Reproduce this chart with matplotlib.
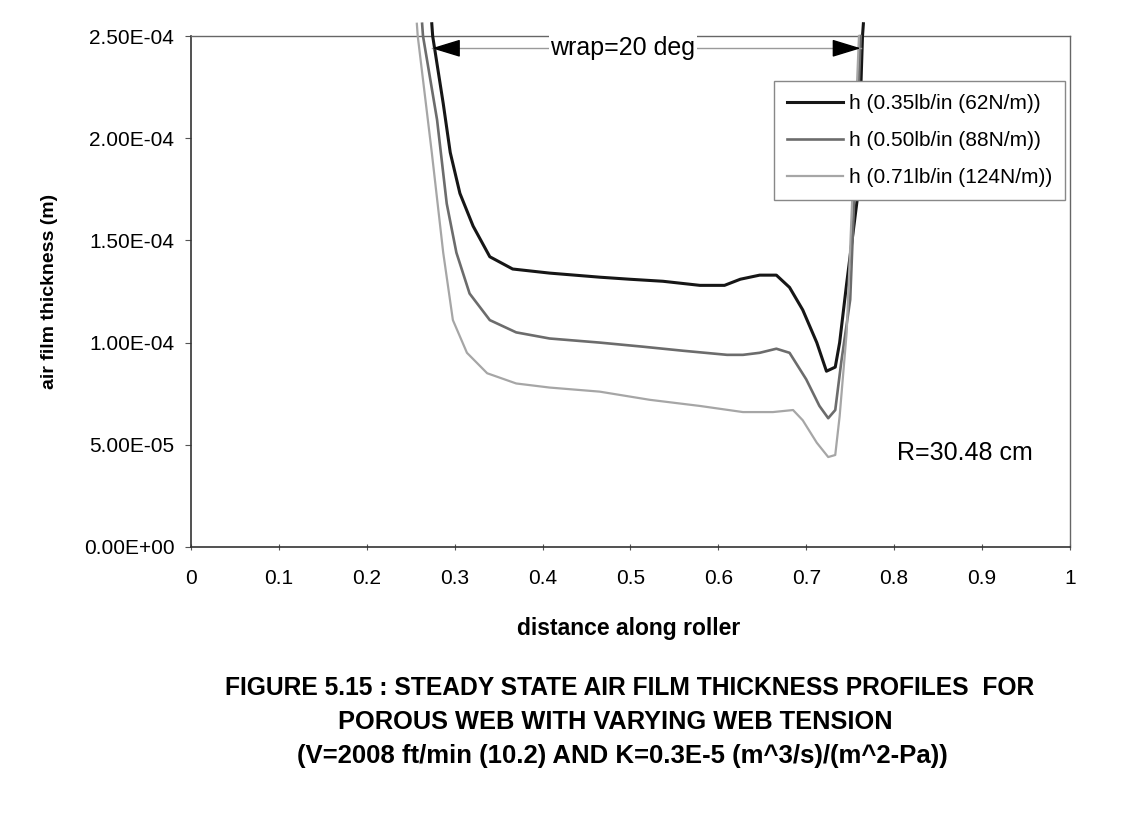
import matplotlib.pyplot as plt

# air film thickness profiles (h in micrometres)
x_62 = [0.274, 0.275, 0.287, 0.295, 0.306, 0.321, 0.340, 0.366, 0.408, 0.465, 0.499, 0.537,
        0.579, 0.607, 0.625, 0.647, 0.666, 0.681, 0.696, 0.712, 0.723, 0.733, 0.738, 0.746,
        0.758, 0.764, 0.765]
h_62 = [256, 250, 217, 193, 173, 157, 142, 136, 134, 132, 131, 130,
        128, 128, 131, 133, 133, 127, 116, 100, 86, 88, 100, 129,
        170, 250, 256]

x_88 = [0.263, 0.264, 0.280, 0.291, 0.302, 0.317, 0.340, 0.370, 0.408, 0.465, 0.514, 0.560,
        0.610, 0.628, 0.647, 0.666, 0.681, 0.700, 0.715, 0.725, 0.733, 0.740, 0.750, 0.762]
h_88 = [256, 250, 209, 168, 144, 124, 111, 105, 102, 100, 98, 96,
        94, 94, 95, 97, 95, 82, 69, 63, 67, 91, 121, 250]

x_124 = [0.257, 0.258, 0.274, 0.287, 0.298, 0.314, 0.337, 0.370, 0.408, 0.465, 0.522, 0.579,
         0.628, 0.662, 0.685, 0.696, 0.712, 0.725, 0.733, 0.738, 0.746, 0.760]
h_124 = [256, 250, 193, 144, 111, 95, 85, 80, 78, 76, 72, 69,
         66, 66, 67, 62, 51, 44, 45, 64, 105, 250]

labels = ["h (0.35lb/in (62N/m))", "h (0.50lb/in (88N/m))", "h (0.71lb/in (124N/m))"]
colors = ["#161616", "#6c6c6c", "#a6a6a6"]
widths = [2.2, 1.9, 1.6]

x_ticks = [0, 0.1, 0.2, 0.3, 0.4, 0.5, 0.6, 0.7, 0.8, 0.9, 1]
y_ticks = [0, 5e-5, 1e-4, 1.5e-4, 2e-4, 2.5e-4]
y_tick_labels = ["0.00E+00", "5.00E-05", "1.00E-04", "1.50E-04", "2.00E-04", "2.50E-04"]

wrap_start = 0.274
wrap_end = 0.762
wrap_h = 244e-6

caption = ["FIGURE 5.15 : STEADY STATE AIR FILM THICKNESS PROFILES  FOR",
           "POROUS WEB WITH VARYING WEB TENSION",
           "(V=2008 ft/min (10.2) AND K=0.3E-5 (m^3/s)/(m^2-Pa))"]
caption_sizes = [17.7, 18.3, 18.5]
caption_x = [0.551, 0.539, 0.545]

plt.rcParams['font.family'] = ['Liberation Sans', 'DejaVu Sans']

fig = plt.figure(figsize=(11.42, 8.24), dpi=100)
ax = fig.add_axes([0.1672, 0.3362, 0.7697, 0.6201])

for xs, hs, lab, c, lw in zip([x_62, x_88, x_124], [h_62, h_88, h_124], labels, colors, widths):
    ax.plot(xs, [v * 1e-6 for v in hs], color=c, lw=lw, label=lab, clip_on=False, zorder=3)

ax.set_xlim(0, 1)
ax.set_ylim(0, 2.5e-4)
ax.set_xticks(x_ticks)
ax.set_xticklabels([("%g" % t) for t in x_ticks])
ax.set_yticks(y_ticks)
ax.set_yticklabels(y_tick_labels)
ax.tick_params(axis='both', labelsize=15, length=4, color='#555555')
ax.tick_params(axis='x', direction='inout', pad=14)
ax.tick_params(axis='y', direction='out', pad=8)
for s in ['left', 'bottom']:
    ax.spines[s].set_color('#333333')
    ax.spines[s].set_linewidth(1.2)
for s in ['top', 'right']:
    ax.spines[s].set_color('#666666')
    ax.spines[s].set_linewidth(1.0)

ax.set_xlabel('distance along roller', fontsize=16.5, fontweight='bold')
ax.xaxis.set_label_coords(0.498, -0.137)
ax.set_ylabel('air film thickness (m)', fontsize=14, fontweight='bold')
ax.yaxis.set_label_coords(-0.151, 0.5)

# wrap angle dimension line with black heads
ax.plot([wrap_start, wrap_end], [wrap_h, wrap_h], color='#9a9a9a', lw=1.0, zorder=4)
head = dict(arrowstyle='-|>,head_length=1.8,head_width=0.55', color='black',
            mutation_scale=10, shrinkA=0, shrinkB=0, lw=1.0)
ax.annotate('', xy=(wrap_start, wrap_h), xytext=(wrap_start + 0.03, wrap_h),
            arrowprops=head, zorder=5)
ax.annotate('', xy=(wrap_end, wrap_h), xytext=(wrap_end - 0.03, wrap_h),
            arrowprops=head, zorder=5)
ax.text(0.491, wrap_h, 'wrap=20 deg', fontsize=18, ha='center', va='center', zorder=5,
        bbox=dict(facecolor='white', edgecolor='none', pad=1))
ax.text(0.881, 4.6e-5, 'R=30.48 cm', fontsize=18, ha='center', va='center')

leg = ax.legend(loc='upper right', bbox_to_anchor=(0.9943, 0.912), fontsize=15,
                frameon=True, fancybox=False, edgecolor='#888888', framealpha=1,
                handlelength=2.65, handletextpad=0.3, borderpad=0.62, labelspacing=0.87,
                borderaxespad=0)
leg.get_frame().set_linewidth(1.0)
leg.set_zorder(6)

for i, line in enumerate(caption):
    fig.text(caption_x[i], 0.165 - i * 0.041, line, fontsize=caption_sizes[i], fontweight='bold',
             ha='center', va='center',
             family=['Liberation Sans Narrow', 'Liberation Sans', 'DejaVu Sans'])

fig.savefig('out.png', dpi=100)
